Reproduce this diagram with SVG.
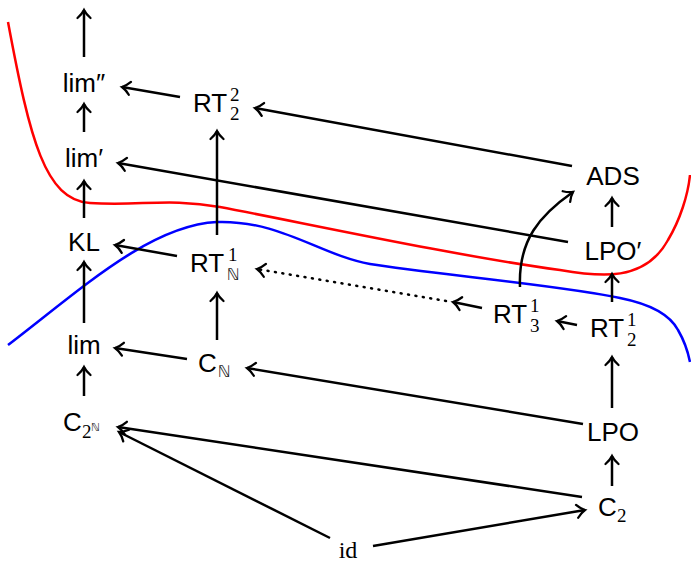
<svg xmlns="http://www.w3.org/2000/svg" width="691" height="563" viewBox="0 0 691 563">
<style>
.t{font-family:"Liberation Sans","DejaVu Sans",sans-serif;font-size:26px;fill:#000}
.s{font-family:"Liberation Serif","DejaVu Serif",serif;font-size:19px;fill:#000}
.n{font-family:"DejaVu Sans",sans-serif;font-size:16px;fill:#222}
.e{fill:none;stroke:#000;stroke-width:2.5;marker-end:url(#ah)}
.d{fill:none;stroke:#000;stroke-width:2.5;stroke-dasharray:1 6.5;stroke-linecap:round;marker-end:url(#ah)}
</style>
<defs>
<marker id="ah" markerUnits="userSpaceOnUse" viewBox="-12 -10 14 20" markerWidth="14" markerHeight="20" refX="0" refY="0" orient="auto" overflow="visible">
<path d="M-8,-6.5 C-5,-3 -2,-1 0,0 C-2,1 -5,3 -8,6.5" fill="none" stroke="#000" stroke-width="2.3" stroke-linecap="round"/>
</marker>
</defs>
<path d="M8,22 C30,140 45,200 90,203 C140,206 170,198 220,207 C300,222 450,255 560,270 C600,277 645,282 668,240 C680,220 688,195 690,175" fill="none" stroke="#f00" stroke-width="2.5"/>
<path d="M8,345 C80,290 150,225 217,222 C280,220 320,255 370,264 C430,274 560,285 620,298 C650,304 670,315 678,330 C685,342 688,352 690,362" fill="none" stroke="#00f" stroke-width="2.5"/>
<g id="connectors">
<line class="e" x1="84" y1="57" x2="84" y2="10"/>
<line class="e" x1="84" y1="132" x2="84" y2="104"/>
<line class="e" x1="84" y1="218" x2="84" y2="181"/>
<line class="e" x1="84" y1="323" x2="84" y2="262"/>
<line class="e" x1="84" y1="396" x2="84" y2="367"/>
<line class="e" x1="217" y1="235" x2="217" y2="131"/>
<line class="e" x1="180" y1="97" x2="122" y2="87"/>
<line class="e" x1="572" y1="166" x2="255" y2="108"/>
<line class="e" x1="568" y1="242" x2="118" y2="163"/>
<line class="e" x1="612" y1="227" x2="612" y2="198"/>
<line class="e" x1="177" y1="256" x2="115" y2="245"/>
<line class="e" x1="217" y1="340" x2="217" y2="293"/>
<line class="e" x1="187" y1="359" x2="115" y2="348"/>
<line class="e" x1="583" y1="424" x2="247" y2="368"/>
<line class="e" x1="612" y1="408" x2="612" y2="357"/>
<line class="e" x1="612" y1="302" x2="612" y2="274"/>
<line class="e" x1="577" y1="325" x2="557" y2="321"/>
<line class="e" x1="482" y1="308" x2="453" y2="302"/>
<line class="d" x1="446" y1="301" x2="257" y2="269"/>
<path class="e" d="M520,287 C518,240 540,215 573,192"/>
<line class="e" x1="612" y1="486" x2="612" y2="456"/>
<line class="e" x1="582" y1="497" x2="118" y2="427"/>
<line class="e" x1="330" y1="538" x2="119" y2="432"/>
<line class="e" x1="373" y1="546" x2="585" y2="510"/>
</g>
<g id="limpp"><text class="t" x="84" y="92" text-anchor="middle">lim″</text></g>
<g id="limp"><text class="t" x="84" y="167" text-anchor="middle">lim′</text></g>
<g id="KL"><text class="t" x="84" y="251" text-anchor="middle">KL</text></g>
<g id="lim"><text class="t" x="84" y="354" text-anchor="middle">lim</text></g>
<g id="C2N"><text class="t" x="63" y="431">C</text><text class="s" x="82" y="438">2</text><text class="n" x="91" y="431" style="font-size:11px">ℕ</text></g>
<g id="RT22"><text class="t" x="193" y="112">RT</text><text class="s" x="230" y="101">2</text><text class="s" x="230" y="120">2</text></g>
<g id="RTN1"><text class="t" x="190" y="272">RT</text><text class="s" x="228" y="261">1</text><text class="n" x="227" y="280">ℕ</text></g>
<g id="CN"><text class="t" x="198" y="372">C</text><text class="n" x="218" y="377">ℕ</text></g>
<g id="ADS"><text class="t" x="613" y="185" text-anchor="middle">ADS</text></g>
<g id="LPOp"><text class="t" x="613" y="260" text-anchor="middle">LPO′</text></g>
<g id="RT31"><text class="t" x="493" y="323">RT</text><text class="s" x="530" y="312">1</text><text class="s" x="530" y="332">3</text></g>
<g id="RT21"><text class="t" x="590" y="337">RT</text><text class="s" x="627" y="326">1</text><text class="s" x="627" y="346">2</text></g>
<g id="LPO"><text class="t" x="613" y="441" text-anchor="middle">LPO</text></g>
<g id="C2"><text class="t" x="598" y="516">C</text><text class="s" x="617" y="522">2</text></g>
<g id="id"><text class="s" x="348" y="558" text-anchor="middle" style="font-size:24px">id</text></g>
</svg>
